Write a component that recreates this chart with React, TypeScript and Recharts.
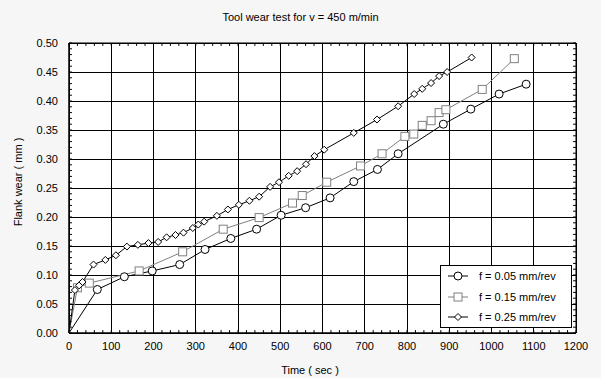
import React from 'react';
import { LineChart, Line, XAxis, YAxis, CartesianGrid, ReferenceLine, ReferenceArea, Legend } from 'recharts';

// f = 0.05 mm/rev
const time005 = [0, 67, 131, 197, 262, 322, 383, 444, 502, 560, 618, 674, 730, 779, 886, 951, 1018, 1082];
const wear005 = [0, 0.075, 0.097, 0.107, 0.118, 0.144, 0.163, 0.179, 0.203, 0.216, 0.233, 0.261, 0.282, 0.309, 0.36, 0.386, 0.412, 0.429];

// f = 0.15 mm/rev
const time015 = [0, 20, 48, 166, 269, 365, 450, 529, 552, 610, 690, 741, 795, 816, 836, 857, 876, 892, 978, 1054];
const wear015 = [0, 0.078, 0.086, 0.107, 0.14, 0.179, 0.199, 0.224, 0.237, 0.26, 0.288, 0.309, 0.339, 0.343, 0.358, 0.366, 0.38, 0.385, 0.42, 0.473];

// f = 0.25 mm/rev
const time025 = [0, 14, 24, 32, 58, 86, 111, 137, 163, 188, 211, 231, 252, 271, 293, 306, 320, 350, 376, 402, 427, 450, 476, 497, 520, 540, 561, 581, 604, 674, 729, 779, 817, 836, 857, 876, 895, 953];
const wear025 = [0, 0.074, 0.082, 0.088, 0.118, 0.126, 0.134, 0.149, 0.152, 0.155, 0.157, 0.165, 0.169, 0.173, 0.181, 0.187, 0.192, 0.202, 0.213, 0.221, 0.228, 0.235, 0.252, 0.26, 0.271, 0.279, 0.291, 0.305, 0.316, 0.345, 0.368, 0.391, 0.412, 0.421, 0.431, 0.443, 0.45, 0.475];

const xTicks = [0, 100, 200, 300, 400, 500, 600, 700, 800, 900, 1000, 1100, 1200];
const yTicks = [0, 0.05, 0.1, 0.15, 0.2, 0.25, 0.3, 0.35, 0.4, 0.45, 0.5];
const xMinor = Array.from({ length: 61 }, (_, i) => i * 20);
const yMinor = Array.from({ length: 51 }, (_, i) => i / 100);

const toRows = (t: number[], w: number[]) => t.map((x, i) => ({ t: x, w: w[i] }));

const FONT = '"Liberation Sans", Arial, sans-serif';

// the first point (origin) carries no marker in the original
const circleDot = (p: any) =>
  p.cx == null || p.index === 0 ? null : <circle key={'c' + p.index} cx={p.cx} cy={p.cy} r={4} fill="#fff" stroke="#000" strokeWidth={1} />;
const squareDot = (p: any) =>
  p.cx == null || p.index === 0 ? null : <rect key={'s' + p.index} x={p.cx - 4} y={p.cy - 4} width={8} height={8} fill="#fff" stroke="#808080" strokeWidth={1} />;
const diamondDot = (p: any) =>
  p.cx == null || p.index === 0 ? null : (
    <path key={'d' + p.index} d={`M${p.cx},${p.cy - 3.5}L${p.cx + 3.5},${p.cy}L${p.cx},${p.cy + 3.5}L${p.cx - 3.5},${p.cy}Z`} fill="#fff" stroke="#000" strokeWidth={1} />
  );

const series = [
  { name: 'f = 0.05 mm/rev', data: toRows(time005, wear005), color: '#000', dot: circleDot },
  { name: 'f = 0.15 mm/rev', data: toRows(time015, wear015), color: '#808080', dot: squareDot },
  { name: 'f = 0.25 mm/rev', data: toRows(time025, wear025), color: '#000', dot: diamondDot },
];

const renderLegend = () => (
  <div style={{ background: '#fff', border: '1px solid #000', width: 130, height: 61, fontFamily: FONT, fontSize: 11, boxSizing: 'content-box' }}>
    {series.map((s, i) => (
      <div key={s.name} style={{ display: 'flex', alignItems: 'center', height: 20.5 }}>
        <svg width={34} height={12} style={{ marginLeft: 4 }}>
          <line x1={3} y1={6} x2={23} y2={6} stroke={s.color} strokeWidth={1} />
          {s.dot({ cx: 13, cy: 6, index: i + 1 })}
        </svg>
        <span style={{ color: '#000' }}>{s.name}</span>
      </div>
    ))}
  </div>
);

export default function App() {
  return (
    <div style={{ position: 'absolute', left: 0, top: 0, width: 601, height: 378, background: '#f6f6f6', fontFamily: FONT }}>
      <div style={{ position: 'absolute', left: 0, width: 601, top: 11, textAlign: 'center', fontSize: 11, color: '#000' }}>
        Tool wear test for v = 450 m/min
      </div>
      <div style={{ position: 'absolute', left: 260, width: 100, top: 364, textAlign: 'center', fontSize: 11, color: '#000' }}>
        Time ( sec )
      </div>
      <div style={{ position: 'absolute', left: -32, width: 100, top: 176, textAlign: 'center', fontSize: 11, color: '#000', transform: 'rotate(-90deg)' }}>
        Flank wear ( mm )
      </div>
      <LineChart width={601} height={378} margin={{ top: 43, right: 25, bottom: 0, left: 0 }} style={{ position: 'absolute', left: 0, top: 0 }}>
        <CartesianGrid fill="#fff" stroke="#000" strokeOpacity={1} shapeRendering="crispEdges" />
        <XAxis
          dataKey="t"
          type="number"
          domain={[0, 1200]}
          ticks={xTicks}
          allowDuplicatedCategory={false}
          height={45}
          tickLine={false}
          tickSize={0}
          tickMargin={9}
          axisLine={{ stroke: '#000' }}
          tick={{ fill: '#000', fontSize: 11, fontFamily: FONT }}
        />
        <YAxis
          dataKey="w"
          type="number"
          domain={[0, 0.5]}
          ticks={yTicks}
          width={69}
          tickLine={false}
          tickSize={0}
          tickMargin={11}
          axisLine={{ stroke: '#000' }}
          tickFormatter={(v: number) => v.toFixed(2)}
          tick={{ fill: '#000', fontSize: 11, fontFamily: FONT }}
        />
        <ReferenceArea x1={0} x2={1200} y1={0} y2={0.5} fill="none" stroke="#000" strokeWidth={1} />
        {xMinor.map((x) => (
          <ReferenceLine key={'xb' + x} segment={[{ x, y: 0 }, { x, y: 0.005 }]} stroke="#000" />
        ))}
        {xMinor.map((x) => (
          <ReferenceLine key={'xt' + x} segment={[{ x, y: 0.5 }, { x, y: 0.495 }]} stroke="#000" />
        ))}
        {yMinor.map((y) => (
          <ReferenceLine key={'yl' + y} segment={[{ x: 0, y }, { x: 7, y }]} stroke="#000" />
        ))}
        {yMinor.map((y) => (
          <ReferenceLine key={'yr' + y} segment={[{ x: 1200, y }, { x: 1193, y }]} stroke="#000" />
        ))}
        {series.map((s) => (
          <Line
            key={s.name}
            name={s.name}
            data={s.data}
            dataKey="w"
            type="linear"
            stroke={s.color}
            strokeWidth={1}
            dot={s.dot}
            activeDot={false}
            isAnimationActive={false}
          />
        ))}
        <Legend
          layout="vertical"
          align="center"
          verticalAlign="middle"
          content={renderLegend}
          wrapperStyle={{ position: 'absolute', left: 440, top: 265, width: 132, height: 63 }}
        />
      </LineChart>
    </div>
  );
}
